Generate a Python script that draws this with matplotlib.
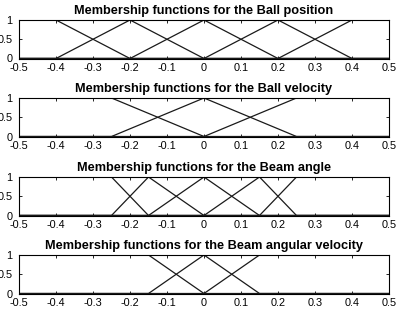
import numpy as np
import matplotlib
matplotlib.use('Agg')
import matplotlib.pyplot as plt

plt.rcParams['font.family'] = ['Liberation Sans', 'DejaVu Sans']

# trapezoid params (a, b, c, d) for each membership function; triangles have b == c
ball_pos_mfs = [(-0.5, -0.5, -0.4, -0.2), (-0.4, -0.2, -0.2, 0.0), (-0.2, 0.0, 0.0, 0.2),
                (0.0, 0.2, 0.2, 0.4), (0.2, 0.4, 0.5, 0.5)]
ball_vel_mfs = [(-0.5, -0.5, -0.25, 0.0), (-0.25, 0.0, 0.0, 0.25), (0.0, 0.25, 0.5, 0.5)]
beam_ang_mfs = [(-0.5, -0.5, -0.25, -0.15), (-0.25, -0.15, -0.15, 0.0), (-0.15, 0.0, 0.0, 0.15),
                (0.0, 0.15, 0.15, 0.25), (0.15, 0.25, 0.5, 0.5)]
beam_angvel_mfs = [(-0.5, -0.5, -0.15, 0.0), (-0.15, 0.0, 0.0, 0.15), (0.0, 0.15, 0.5, 0.5)]

titles = ['Membership functions for the Ball position',
          'Membership functions for the Ball velocity',
          'Membership functions for the Beam angle',
          'Membership functions for the Beam angular velocity']
x_ticks = [-0.5, -0.4, -0.3, -0.2, -0.1, 0, 0.1, 0.2, 0.3, 0.4, 0.5]
x_tick_labels = ['-0.5', '-0.4', '-0.3', '-0.2', '-0.1', '0', '0.1', '0.2', '0.3', '0.4', '0.5']
y_ticks = [0, 0.5, 1]
y_tick_labels = ['0', '0.5', '1']


def trapmf(x, a, b, c, d):
    x = np.asarray(x, dtype=float)
    up = np.where(b > a, (x - a) / max(b - a, 1e-12), 1.0)
    down = np.where(d > c, (d - x) / max(d - c, 1e-12), 1.0)
    return np.clip(np.minimum(np.minimum(up, down), 1.0), 0, 1)


def draw_mfs(ax, mfs, title):
    for a, b, c, d in mfs:
        xs = np.unique(np.clip([-0.5, a, b, c, d, 0.5], -0.5, 0.5))
        ax.plot(xs, trapmf(xs, a, b, c, d), color='#1a1a1a', lw=0.9)
    ax.set_xlim(-0.5, 0.5)
    ax.set_ylim(0, 1)
    ax.set_xticks(x_ticks)
    ax.set_xticklabels(x_tick_labels)
    ax.set_yticks(y_ticks)
    ax.set_yticklabels(y_tick_labels)
    ax.tick_params(direction='in', length=2, width=0.6, top=True, right=True,
                   labelsize=7.8)
    ax.tick_params(axis='x', pad=3)
    ax.tick_params(axis='y', pad=4.5)
    for s in ax.spines.values():
        s.set_linewidth(0.8)
    ax.set_title(title, fontsize=9.2, fontweight='bold', pad=4.5)


def main():
    fig = plt.figure(figsize=(3.99, 3.13), dpi=100)
    all_mfs = [ball_pos_mfs, ball_vel_mfs, beam_ang_mfs, beam_angvel_mfs]
    tops = [20, 98, 177, 255]
    for i in range(4):
        top = tops[i]
        ax = fig.add_axes([19 / 399, 1 - (top + 38.5) / 313, 370 / 399, 38.5 / 313])
        draw_mfs(ax, all_mfs[i], titles[i])
    fig.savefig('out.png', dpi=100)


if __name__ == '__main__':
    main()
